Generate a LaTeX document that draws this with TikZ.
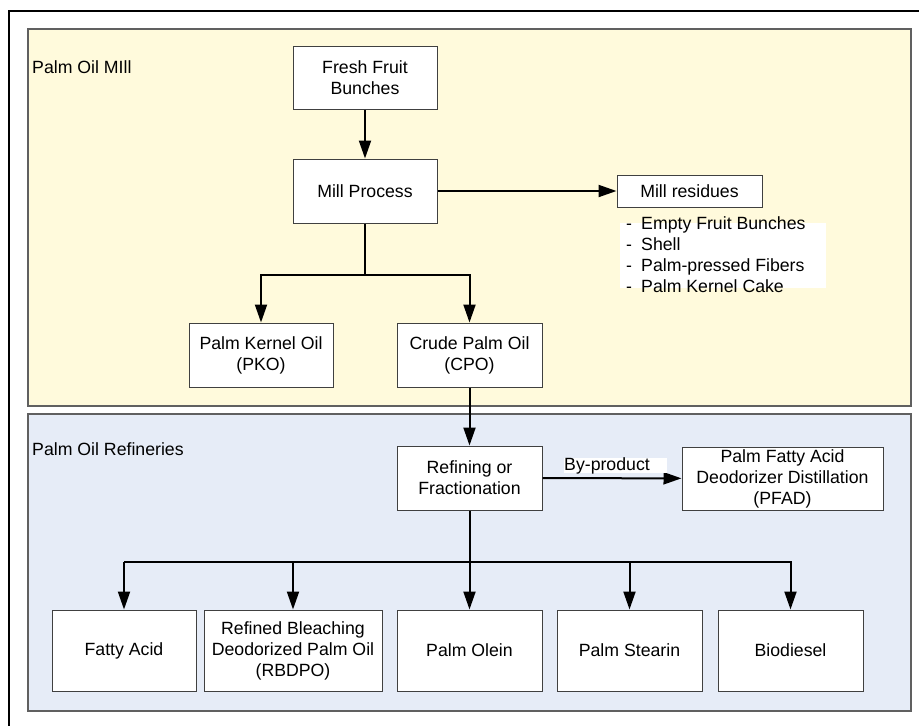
\documentclass[tikz,border=0pt]{standalone}
\usepackage{fontspec}
\setmainfont{Liberation Sans}
\usetikzlibrary{arrows.meta}
\definecolor{millfill}{HTML}{FFFADC}
\definecolor{reffill}{HTML}{E6ECF7}
\definecolor{boxline}{HTML}{404040}
\definecolor{panelline}{HTML}{606060}
\begin{document}
\begin{tikzpicture}[x=1pt,y=-1pt,
  every node/.style={font=\fontsize{17.7}{21}\selectfont},
  procbox/.style={draw=boxline, line width=1pt, fill=white, inner sep=0pt, align=center},
  panel/.style={draw=panelline, line width=1.2pt},
  flow/.style={line width=2pt, draw=black},
  arr/.style={flow, -{Triangle[length=18pt,width=12pt]}},
  paneltitle/.style={anchor=west, inner sep=0pt},
  listitem/.style={anchor=base west, inner sep=0pt}
]
\useasboundingbox (0,0) rectangle (919,726);
\clip (0,0) rectangle (919,726);
\fill[white] (0,0) rectangle (919,726);
% outer frame (right and bottom lie outside the picture)
\draw[line width=2.5pt] (9,11) rectangle (940,750);
% panels
\draw[panel, fill=millfill] (28,29) rectangle (911,406);
\draw[panel, fill=reffill] (28,414) rectangle (911,711);
\node[paneltitle] (milltitle) at (32,67) {Palm Oil MIll};
\node[paneltitle] (reftitle) at (32,449) {Palm Oil Refineries};
% mill nodes
\node[procbox, minimum width=144pt, minimum height=63pt] (ffb) at (365,77.5) {Fresh Fruit\\Bunches};
\node[procbox, minimum width=144pt, minimum height=64pt] (mp) at (365,191) {Mill Process};
\node[procbox, minimum width=145pt, minimum height=32pt] (res) at (689.5,191) {Mill residues};
\node[fill=white, inner sep=0pt, minimum width=206pt, minimum height=65pt] (resbg) at (723,255.5) {};
\node[listitem] (d1) at (626,229) {-};
\node[listitem] (l1) at (641,229) {Empty Fruit Bunches};
\node[listitem] (d2) at (626,250) {-};
\node[listitem] (l2) at (641,250) {Shell};
\node[listitem] (d3) at (626,271.5) {-};
\node[listitem] (l3) at (641,271.5) {Palm-pressed Fibers};
\node[listitem] (d4) at (626,292.5) {-};
\node[listitem] (l4) at (641,292.5) {Palm Kernel Cake};
\node[procbox, minimum width=144pt, minimum height=64pt] (pko) at (261,355) {Palm Kernel Oil\\(PKO)};
\node[procbox, minimum width=145pt, minimum height=64pt] (cpo) at (469.5,355) {Crude Palm Oil\\(CPO)};
% refinery nodes
\node[procbox, minimum width=145pt, minimum height=64pt] (ref) at (469.5,478) {Refining or\\Fractionation};
\node[procbox, minimum width=201pt, minimum height=63pt] (pfad) at (782.5,478.5) {Palm Fatty Acid\\Deodorizer Distillation\\(PFAD)};
\node[procbox, minimum width=144pt, minimum height=81pt] (fa) at (124,650.5) {Fatty Acid};
\node[procbox, minimum width=178pt, minimum height=81pt] (rbdpo) at (293,650.5) {Refined Bleaching\\Deodorized Palm Oil\\(RBDPO)};
\node[procbox, minimum width=145pt, minimum height=81pt] (olein) at (469.5,650.5) {Palm Olein};
\node[procbox, minimum width=145pt, minimum height=81pt] (stearin) at (629.5,650.5) {Palm Stearin};
\node[procbox, minimum width=145pt, minimum height=81pt] (bio) at (790.5,650.5) {Biodiesel};
% connectors
\coordinate (b1) at (365,275);
\coordinate (b2) at (469.5,562);
\coordinate (b2l) at (124,562);
\coordinate (b2r) at (792,562);
\draw[arr] (ffb) -- (mp);
\draw[arr] (mp) -- (res);
\draw[flow] (mp) -- (b1);
\draw[arr] (b1) -| (pko.north);
\draw[arr] (b1) -| (cpo.north);
\draw[arr] (cpo) -- (ref);
\draw[arr] (ref) -- (pfad);
\node[fill=white, inner sep=0pt, anchor=north west, text width=103pt, minimum height=15pt, align=left, text depth=0pt] (byp) at (564,457.5) {\raisebox{0pt}[11pt][0pt]{By-product}};
\draw[arr] (ref) -- (olein);
\draw[flow] (b2l) -- (b2r);
\draw[arr] (b2l) -- (fa.north);
\draw[arr] (rbdpo.north |- b2) -- (rbdpo.north);
\draw[arr] (stearin.north |- b2) -- (stearin.north);
\draw[arr] (bio.north |- b2) -- (bio.north);
\end{tikzpicture}
\end{document}
